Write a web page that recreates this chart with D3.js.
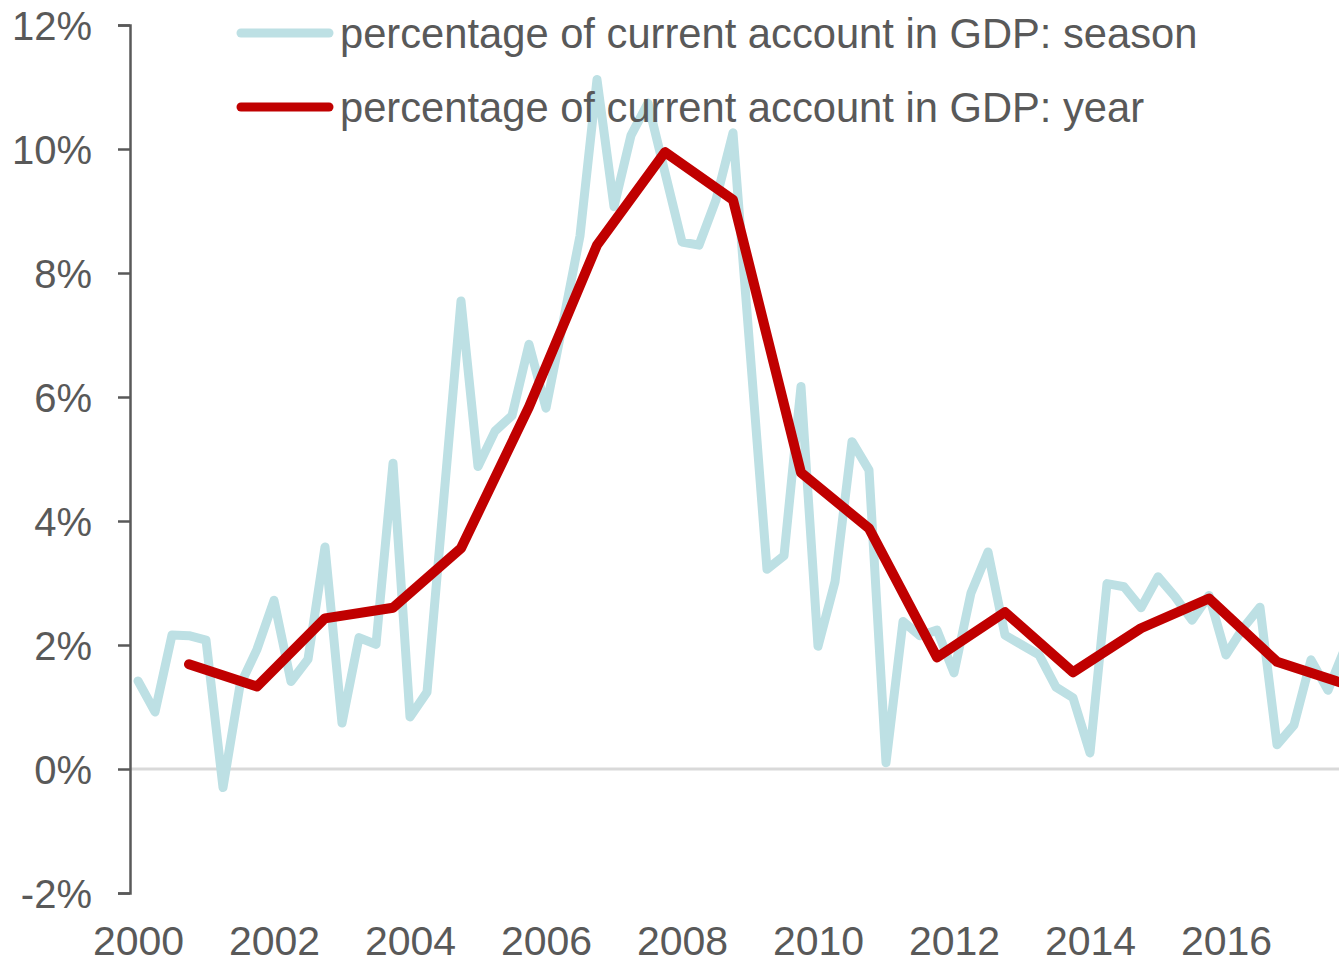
<!DOCTYPE html>
<html>
<head>
<meta charset="utf-8">
<script src="https://cdn.jsdelivr.net/npm/d3@7"></script>
<style>
    body { margin: 0; background: #fff; }
    svg { display: block; font-family: "Liberation Sans", Arial, sans-serif; }
    .axis text { fill: #595959; font-size: 40px; }
</style>
</head>
<body>
<div id="chart"></div>
<script>
// quarterly values 2000Q1 .. 2017Q4, % of GDP
var seasonValues = [
    1.42, 0.92, 2.16, 2.15,   2.08, -0.30, 1.35, 1.93,   2.72, 1.41, 1.77, 3.58,
    0.74, 2.12, 2.01, 4.93,   0.84, 1.24, 4.40, 7.55,    4.88, 5.45, 5.70, 6.85,
    5.82, 7.20, 8.60, 11.12,  9.07, 10.22, 10.74, 9.62,  8.50, 8.45, 9.18, 10.26,
    6.75, 3.22, 3.44, 6.17,   1.98, 3.02, 5.28, 4.82,    0.10, 2.38, 2.15, 2.24,
    1.55, 2.84, 3.50, 2.16,   2.00, 1.84, 1.32, 1.15,    0.26, 2.99, 2.94, 2.60,
    3.10, 2.78, 2.40, 2.80,   1.84, 2.27, 2.61, 0.39,    0.71, 1.76, 1.27, 1.95
];
var startYear = 2000;

// yearly values, plotted at Q4 of each year
var years = [2000, 2001, 2002, 2003, 2004, 2005, 2006, 2007, 2008,
             2009, 2010, 2011, 2012, 2013, 2014, 2015, 2016, 2017];
var yearValues = [1.69, 1.33, 2.43, 2.60, 3.56, 5.84, 8.45, 9.95, 9.18,
                  4.78, 3.88, 1.80, 2.53, 1.56, 2.27, 2.75, 1.73, 1.37];

var xTicks = [2000, 2002, 2004, 2006, 2008, 2010, 2012, 2014, 2016];
var yTicks = [-2, 0, 2, 4, 6, 8, 10, 12];

var seriesNames = ['percentage of current account in GDP: season',
                   'percentage of current account in GDP: year'];
var seriesColors = ['#bde0e4', '#c00000'];

var width = 1339,
    height = 965;

var x = d3.scaleLinear()
    .domain([2000, 2018])
    .range([138, 1362]);

var y = d3.scaleLinear()
    .domain([-2, 12])
    .range([893, 25]);

var svg = d3.select('#chart')
    .append('svg')
    .attr('width', width)
    .attr('height', height);

var season = seasonValues.map(function(v, i) {
    return { t: startYear + i / 4, v: v };
});
var yearly = yearValues.map(function(v, i) {
    return { t: years[i] + 0.75, v: v };
});

// zero line
svg.append('line')
    .attr('x1', 130)
    .attr('x2', width)
    .attr('y1', y(0))
    .attr('y2', y(0))
    .attr('stroke', '#d9d9d9')
    .attr('stroke-width', 3);

// y axis
var yAxis = svg.append('g')
    .attr('class', 'axis')
    .attr('transform', 'translate(130,0)')
    .call(d3.axisLeft(y)
        .tickValues(yTicks)
        .tickSize(12)
        .tickPadding(26)
        .tickFormat(function(d) { return d + '%'; }));

yAxis.select('.domain')
    .attr('stroke', '#595959')
    .attr('stroke-width', 2.5);
yAxis.selectAll('.tick line')
    .attr('stroke', '#595959')
    .attr('stroke-width', 2.5);
yAxis.selectAll('text')
    .attr('dy', '0.36em');

// x axis labels only
var xAxis = svg.append('g')
    .attr('class', 'axis')
    .attr('transform', 'translate(0,912)')
    .call(d3.axisBottom(x)
        .tickValues(xTicks)
        .tickSize(0)
        .tickPadding(0)
        .tickFormat(d3.format('d')));

xAxis.select('.domain').remove();
xAxis.selectAll('text')
    .attr('dy', '1.05em')
    .style('font-size', '41px');

var line = d3.line()
    .x(function(d) { return x(d.t); })
    .y(function(d) { return y(d.v); });

svg.append('path')
    .datum(season)
    .attr('d', line)
    .attr('fill', 'none')
    .attr('stroke', seriesColors[0])
    .attr('stroke-width', 9)
    .attr('stroke-linejoin', 'round')
    .attr('stroke-linecap', 'round');

svg.append('path')
    .datum(yearly)
    .attr('d', line)
    .attr('fill', 'none')
    .attr('stroke', seriesColors[1])
    .attr('stroke-width', 10)
    .attr('stroke-linejoin', 'round')
    .attr('stroke-linecap', 'round');

// legend
var legend = svg.selectAll('.legend')
    .data(seriesNames)
    .enter()
    .append('g')
    .attr('class', 'legend')
    .attr('transform', function(d, i) { return 'translate(0,' + (33 + i * 74) + ')'; });

legend.append('line')
    .attr('x1', 241)
    .attr('x2', 329)
    .attr('stroke', function(d, i) { return seriesColors[i]; })
    .attr('stroke-width', 9)
    .attr('stroke-linecap', 'round');

legend.append('text')
    .attr('x', 340)
    .attr('dy', '0.36em')
    .attr('fill', '#595959')
    .style('font-size', '41.7px')
    .text(function(d) { return d; });
</script>
</body>
</html>
